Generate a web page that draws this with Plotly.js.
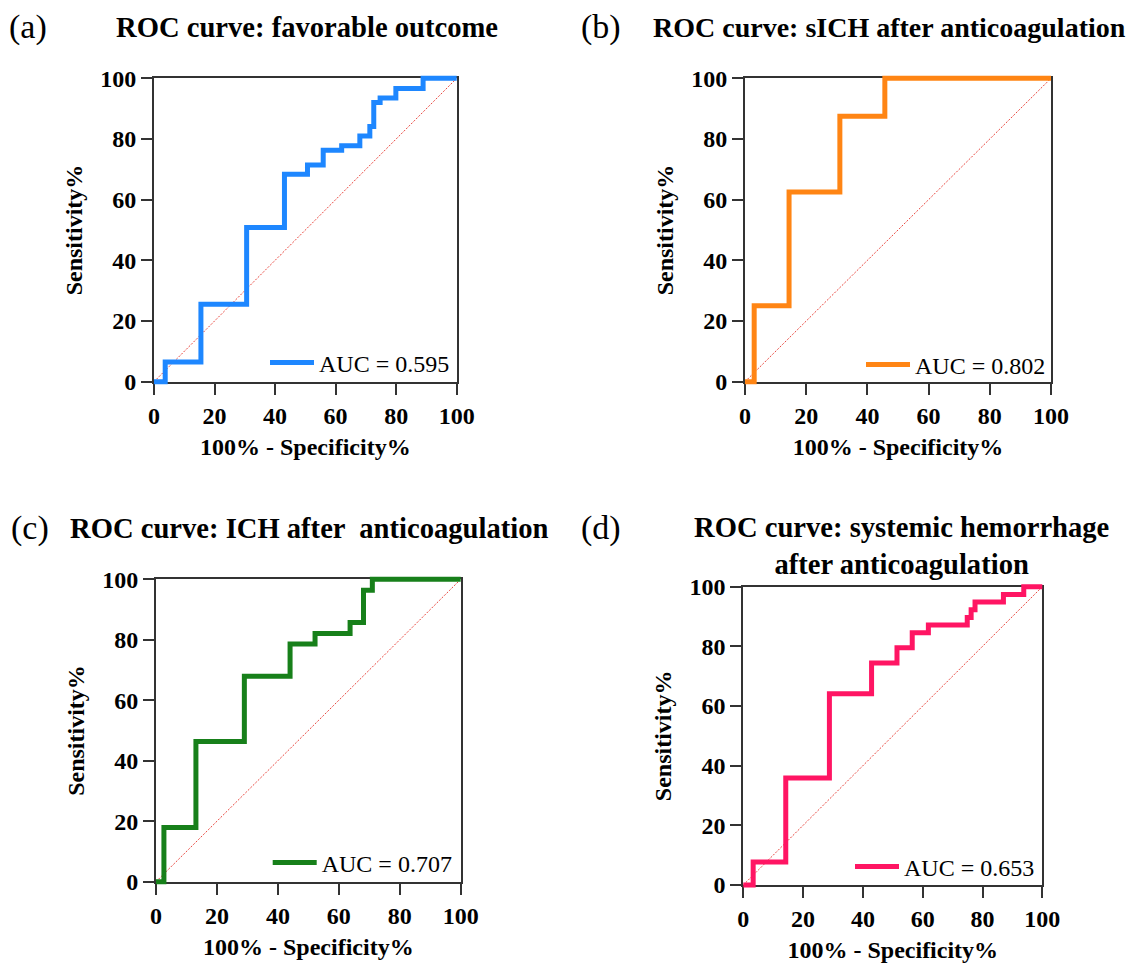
<!DOCTYPE html>
<html><head><meta charset="utf-8">
<script src="https://cdn.plot.ly/plotly-3.0.1.min.js"></script>
<style>html,body{margin:0;padding:0;background:#fff}</style>
</head><body><div id="chart" style="width:1142px;height:963px"></div>
<script>
// ---------- data ----------
const panelLabels = ['(a)', '(b)', '(c)', '(d)'];
const panelTitles = [
  'ROC curve: favorable outcome',
  'ROC curve: sICH after anticoagulation',
  'ROC curve: ICH after  anticoagulation',
  'ROC curve: systemic hemorrhage<br>after anticoagulation'
];
const aucLabels = ['AUC = 0.595', 'AUC = 0.802', 'AUC = 0.707', 'AUC = 0.653'];

// 100% - Specificity% (x) and Sensitivity% (y) at each ROC step
const fprA  = [0, 3.7, 15.5, 30.6, 43.1, 50.7, 55.9, 62.0, 68.0, 71.3, 72.6, 74.7, 79.9, 88.9, 100];
const sensA = [0, 6.5, 25.5, 50.8, 68.4, 71.4, 76.3, 77.8, 81.0, 84.1, 92.0, 93.5, 96.6, 100, 100];

const fprB  = [0, 3.0, 14.4, 31.0, 45.7, 100];
const sensB = [0, 25.0, 62.5, 87.5, 100, 100];

const fprC  = [0, 2.6, 13.1, 29.0, 44.0, 52.2, 63.7, 68.1, 71.0, 100];
const sensC = [0, 17.9, 46.4, 67.9, 78.6, 82.1, 85.7, 96.4, 100, 100];

const fprD  = [0, 3.3, 14.2, 28.8, 42.9, 51.4, 56.5, 61.9, 74.9, 76.2, 77.5, 87.0, 93.8, 100];
const sensD = [0, 7.7, 35.9, 64.1, 74.4, 79.5, 84.6, 87.2, 89.7, 92.3, 94.9, 97.4, 100, 100];

const referenceX = [0, 100];
const referenceY = [0, 100];

const tickValues = [0, 20, 40, 60, 80, 100];
const xAxisTitle = '100% - Specificity%';
const yAxisTitle = 'Sensitivity%';

// ---------- styling / layout ----------
const W = 1142, H = 963;
const FONT = 'Liberation Serif, Times New Roman, serif';
const colors = ['#1E87FF', '#FF8514', '#17801A', '#FF1563'];
const series = [[fprA, sensA], [fprB, sensB], [fprC, sensC], [fprD, sensD]];

// plot-area boxes in pixels
const boxes = [
  {x0: 154,   x1: 456.7,  y0: 78.3,  y1: 381.7},
  {x0: 745,   x1: 1051,   y0: 78.3,  y1: 381.7},
  {x0: 156,   x1: 460.7,  y0: 579.3, y1: 881.7},
  {x0: 743.3, x1: 1042.3, y0: 586.7, y1: 885}
];
const legendPos = [
  {right: 449, cy: 363},
  {right: 1045, cy: 365},
  {right: 451.7, cy: 863},
  {right: 1034, cy: 867}
];
const titlePos = [
  {label: [28.5, 27], title: [306.5, 27], size: 28.6},
  {label: [601, 27], title: [889, 27], size: 28},
  {label: [30, 528], title: [309, 528], size: 28.6},
  {label: [601, 528], title: [901, 546], size: 28.6}
];

const PAD = 3; // extra room (data units) for hidden data axes so thick lines are not clipped

const layout = {
  width: W, height: H,
  margin: {l: 0, r: 0, t: 0, b: 0},
  paper_bgcolor: '#ffffff',
  plot_bgcolor: 'rgba(0,0,0,0)',
  showlegend: true,
  annotations: [],
  font: {family: FONT, color: '#000'}
};
const traces = [];
const axKey = (letter, n) => letter + 'axis' + (n === 1 ? '' : n);
const axRef = (letter, n) => letter + (n === 1 ? '' : n);

boxes.forEach((b, i) => {
  const n = i + 1, m = i + 5;
  const dx = [b.x0 / W, b.x1 / W];
  const dy = [1 - b.y1 / H, 1 - b.y0 / H];
  const axisCommon = {
    visible: true,
    range: [0, 100], tickvals: tickValues, ticktext: tickValues.map(String),
    ticks: 'outside', ticklen: 11, tickwidth: 2, tickcolor: '#333',
    showline: true, linecolor: '#333', linewidth: 2, mirror: true,
    showgrid: false, zeroline: false, fixedrange: true,
    tickfont: {family: FONT, size: 24, weight: 'bold', color: '#000'},
    layer: 'below traces'
  };
  layout[axKey('x', n)] = Object.assign({}, axisCommon, {
    domain: dx, anchor: axRef('y', n),
    title: {text: xAxisTitle, font: {family: FONT, size: 24, weight: 'bold', color: '#000'}, standoff: 11}
  });
  layout[axKey('y', n)] = Object.assign({}, axisCommon, {
    domain: dy, anchor: axRef('x', n),
    title: {text: yAxisTitle, font: {family: FONT, size: 24, weight: 'bold', color: '#000'}, standoff: 11}
  });
  // hidden data axes (same scale, slightly larger box so thick lines are not clipped)
  const ddx = (dx[1] - dx[0]) * PAD / 100, ddy = (dy[1] - dy[0]) * PAD / 100;
  layout[axKey('x', m)] = {visible: false, range: [-PAD, 100 + PAD], domain: [dx[0] - ddx, dx[1] + ddx], anchor: axRef('y', m), fixedrange: true, showgrid: false, zeroline: false};
  layout[axKey('y', m)] = {visible: false, range: [-PAD, 100 + PAD], domain: [dy[0] - ddy, dy[1] + ddy], anchor: axRef('x', m), fixedrange: true, showgrid: false, zeroline: false};

  const legName = i === 0 ? 'legend' : 'legend' + n;
  layout[legName] = {
    x: (legendPos[i].right + 6) / W, y: 1 - legendPos[i].cy / H,
    xanchor: 'right', yanchor: 'middle',
    bgcolor: 'rgba(0,0,0,0)', borderwidth: 0, itemwidth: 44,
    font: {family: FONT, size: 24, color: '#000'}
  };

  // chance diagonal on the visible axes
  traces.push({
    x: referenceX, y: referenceY, type: 'scatter', mode: 'lines',
    xaxis: axRef('x', n), yaxis: axRef('y', n), showlegend: false, hoverinfo: 'skip',
    line: {color: '#E8473F', width: 1, dash: '2px,1.5px'}
  });
  // ROC step curve on the hidden overlay axes
  traces.push({
    x: series[i][0], y: series[i][1], type: 'scatter', mode: 'lines',
    xaxis: axRef('x', m), yaxis: axRef('y', m), name: aucLabels[i], legend: legName,
    line: {color: colors[i], width: 5, shape: 'hv'}
  });

  layout.annotations.push({
    xref: 'paper', yref: 'paper', x: titlePos[i].label[0] / W, y: 1 - titlePos[i].label[1] / H,
    xanchor: 'center', yanchor: 'middle', showarrow: false, text: panelLabels[i],
    font: {family: FONT, size: 34, color: '#000'}
  });
  layout.annotations.push({
    xref: 'paper', yref: 'paper', x: titlePos[i].title[0] / W, y: 1 - titlePos[i].title[1] / H,
    xanchor: 'center', yanchor: 'middle', showarrow: false, text: panelTitles[i],
    font: {family: FONT, size: titlePos[i].size, weight: 'bold', color: '#000'}
  });
});

Plotly.newPlot('chart', traces, layout, {staticPlot: true, displayModeBar: false});
</script></body></html>
